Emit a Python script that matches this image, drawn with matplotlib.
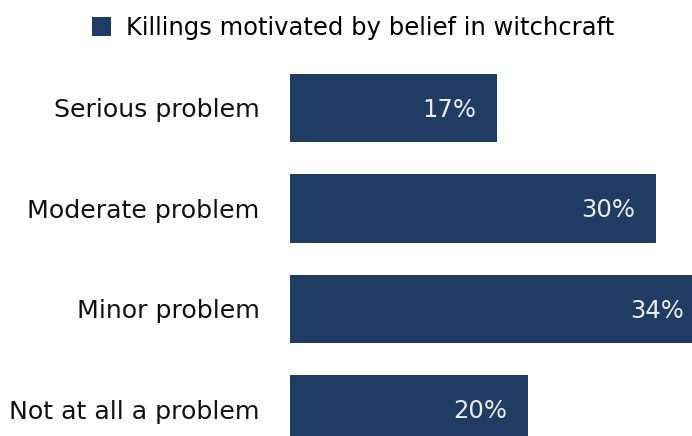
import matplotlib.pyplot as plt

categories = ['Serious problem', 'Moderate problem', 'Minor problem', 'Not at all a problem']
values = [17, 30, 34, 19.5]
series_name = 'Killings motivated by belief in witchcraft'

bar_color = '#1f3d62'
W, H = 692, 436

plt.rcParams['font.family'] = ['DejaVu Sans']
fig = plt.figure(figsize=(W/100, H/100), dpi=100)
ax = fig.add_axes([290/W, 0, 1 - 290/W, 378/H])

pos = list(range(len(categories)))
ax.barh(pos, values, height=0.68, color=bar_color, label=series_name)
ax.set_xlim(0, 32.95)
ax.set_ylim(3.264, -0.4975)

for p, v in zip(pos, values):
    ax.annotate('{}%'.format(int(v + 0.5)), (v, p), xytext=(-21, -2), textcoords='offset pixels',
                ha='right', va='center', color='#ececec', fontsize=17.5,
                annotation_clip=False)

ax.set_yticks(pos)
ax.set_yticklabels(categories, fontsize=18.2, color='#111111')
ax.tick_params(axis='y', length=0, pad=22)
ax.set_xticks([])
for s in ax.spines.values():
    s.set_visible(False)

fig.legend(loc='center', bbox_to_anchor=(353/W, 1 - 28/H), frameon=False, fontsize=17.5,
           handlelength=0.8, handleheight=0.8, handletextpad=0.6)

fig.savefig('out.png', dpi=100)
